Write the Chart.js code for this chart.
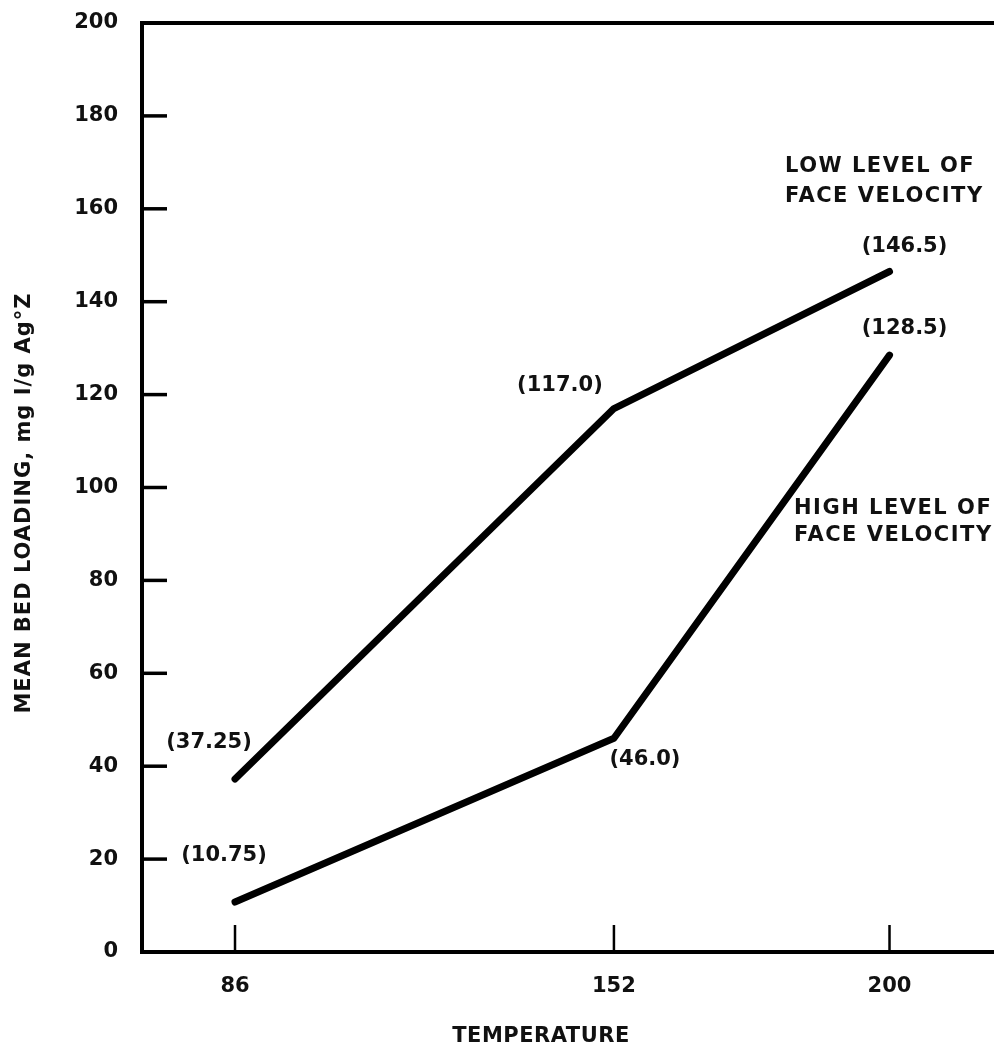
<!DOCTYPE html>
<html>
<head>
<meta charset="utf-8">
<title>Mean bed loading vs temperature</title>
<script src="https://cdn.jsdelivr.net/npm/chart.js@4.4.1/dist/chart.umd.min.js"></script>
<style>
  html, body { margin: 0; padding: 0; background: #ffffff; }
  canvas { display: block; }
</style>
</head>
<body>
<canvas id="chart" width="994" height="1043"></canvas>
<script>
// Temperatures (x) and mean bed loading (mg I/g Ag°Z) for the two face-velocity levels
const temperatures = [86, 152, 200];
const lowVelocity = [37.25, 117.0, 146.5];
const highVelocity = [10.75, 46.0, 128.5];

// Axis ticks
const xTickValues = [86, 152, 200];
const yTickValues = [0, 20, 40, 60, 80, 100, 120, 140, 160, 180, 200];

// Captions and axis titles
const lowCaption = ['LOW LEVEL OF', 'FACE VELOCITY'];
const highCaption = ['HIGH LEVEL OF', 'FACE VELOCITY'];
const xTitle = 'TEMPERATURE';
const yTitle = 'MEAN BED LOADING, mg I/g Ag°Z';

const FONT = '"DejaVu Sans", "Liberation Sans", Arial, sans-serif';
const INK = '#111111';

// "(117.0)", "(37.25)" ... value labels built from the plotted numbers
function valueLabel(v) {
  const s = Number.isInteger(v * 10) ? v.toFixed(1) : v.toFixed(2);
  return '(' + s + ')';
}

// Offsets (px) of each value label from its point
const lowLabelOffsets = [[-26, -39], [-54, -25], [15, -27]];
const highLabelOffsets = [[-11, -49], [31, 19], [15, -29]];

const inwardTicks = {
  id: 'inwardTicks',
  afterDraw(chart) {
    const { ctx, chartArea, scales } = chart;
    ctx.save();
    ctx.strokeStyle = '#000';
    ctx.lineCap = 'butt';
    // y ticks pointing into the plot
    ctx.lineWidth = 3.5;
    yTickValues.forEach(v => {
      if (v === 0 || v === 200) return;
      const y = scales.y.getPixelForValue(v);
      ctx.beginPath();
      ctx.moveTo(chartArea.left, y);
      ctx.lineTo(chartArea.left + 25, y);
      ctx.stroke();
    });
    // x ticks pointing up from the axis
    ctx.lineWidth = 2.5;
    xTickValues.forEach(v => {
      const x = scales.x.getPixelForValue(v);
      ctx.beginPath();
      ctx.moveTo(x, chartArea.bottom);
      ctx.lineTo(x, chartArea.bottom - 27);
      ctx.stroke();
    });
    ctx.restore();
  }
};

function drawText(ctx, text, x, yCenter, size, align, spacing) {
  ctx.font = 'bold ' + size + 'px ' + FONT;
  ctx.textAlign = align;
  ctx.textBaseline = 'alphabetic';
  ctx.letterSpacing = (spacing || 0) + 'px';
  ctx.fillText(text, x, yCenter + size * 0.3645);
}

const annotations = {
  id: 'annotations',
  afterDraw(chart) {
    const { ctx, scales } = chart;
    ctx.save();
    ctx.fillStyle = INK;
    const put = (vals, offs) => vals.forEach((v, i) => {
      const x = scales.x.getPixelForValue(temperatures[i]);
      const y = scales.y.getPixelForValue(v);
      drawText(ctx, valueLabel(v), x + offs[i][0], y + offs[i][1], 21, 'center', 0);
    });
    put(lowVelocity, lowLabelOffsets);
    put(highVelocity, highLabelOffsets);

    drawText(ctx, lowCaption[0], 785, 164, 21, 'left', 1.5);
    drawText(ctx, lowCaption[1], 785, 194, 21, 'left', 1.5);
    drawText(ctx, highCaption[0], 794, 506, 21, 'left', 1.5);
    drawText(ctx, highCaption[1], 794, 533, 21, 'left', 1.5);

    // axis titles
    drawText(ctx, xTitle, 541, 1034, 21, 'center', 0.5);
    ctx.save();
    ctx.translate(22.5, 503);
    ctx.rotate(-Math.PI / 2);
    drawText(ctx, yTitle, 0, 0, 21, 'center', 1);
    ctx.restore();
    ctx.restore();
  }
};

const tickFont = { family: FONT, size: 21, weight: 'bold' };

function noPad(s) {
  s.paddingTop = 0; s.paddingBottom = 0; s.paddingLeft = 0; s.paddingRight = 0;
}

new Chart(document.getElementById('chart'), {
  type: 'line',
  data: {
    datasets: [
      {
        label: 'Low level of face velocity',
        data: temperatures.map((t, i) => ({ x: t, y: lowVelocity[i] })),
        borderColor: '#000',
        borderWidth: 7,
        borderCapStyle: 'round',
        borderJoinStyle: 'round',
        pointRadius: 0,
        tension: 0,
        fill: false
      },
      {
        label: 'High level of face velocity',
        data: temperatures.map((t, i) => ({ x: t, y: highVelocity[i] })),
        borderColor: '#000',
        borderWidth: 7,
        borderCapStyle: 'round',
        borderJoinStyle: 'round',
        pointRadius: 0,
        tension: 0,
        fill: false
      }
    ]
  },
  options: {
    responsive: false,
    animation: false,
    events: [],
    layout: { padding: { top: 23, right: 0, left: 0, bottom: 0 } },
    plugins: {
      legend: { display: false },
      tooltip: { enabled: false },
      title: { display: false }
    },
    scales: {
      x: {
        type: 'linear',
        position: 'bottom',
        min: 69.8,
        max: 218.2,
        afterBuildTicks: s => { s.ticks = xTickValues.map(v => ({ value: v })); },
        afterFit: s => { s.height = 91; noPad(s); },
        ticks: { font: tickFont, color: INK, padding: 22, maxRotation: 0, autoSkip: false,
                 callback: v => String(v) },
        grid: { display: true, drawOnChartArea: false, drawTicks: false },
        border: { display: true, color: '#000', width: 4 }
      },
      x2: {
        type: 'linear',
        position: 'top',
        min: 69.8,
        max: 218.2,
        afterFit: s => { s.height = 0; noPad(s); },
        ticks: { display: false },
        grid: { display: true, drawOnChartArea: false, drawTicks: false },
        border: { display: true, color: '#000', width: 4 }
      },
      y: {
        type: 'linear',
        position: 'left',
        min: 0,
        max: 200,
        afterBuildTicks: s => { s.ticks = yTickValues.map(v => ({ value: v })); },
        afterFit: s => { s.width = 142; noPad(s); },
        ticks: { font: tickFont, color: INK, padding: 24, callback: v => String(v) },
        grid: { display: true, drawOnChartArea: false, drawTicks: false },
        border: { display: true, color: '#000', width: 4 }
      }
    }
  },
  plugins: [inwardTicks, annotations]
});
</script>
</body>
</html>
